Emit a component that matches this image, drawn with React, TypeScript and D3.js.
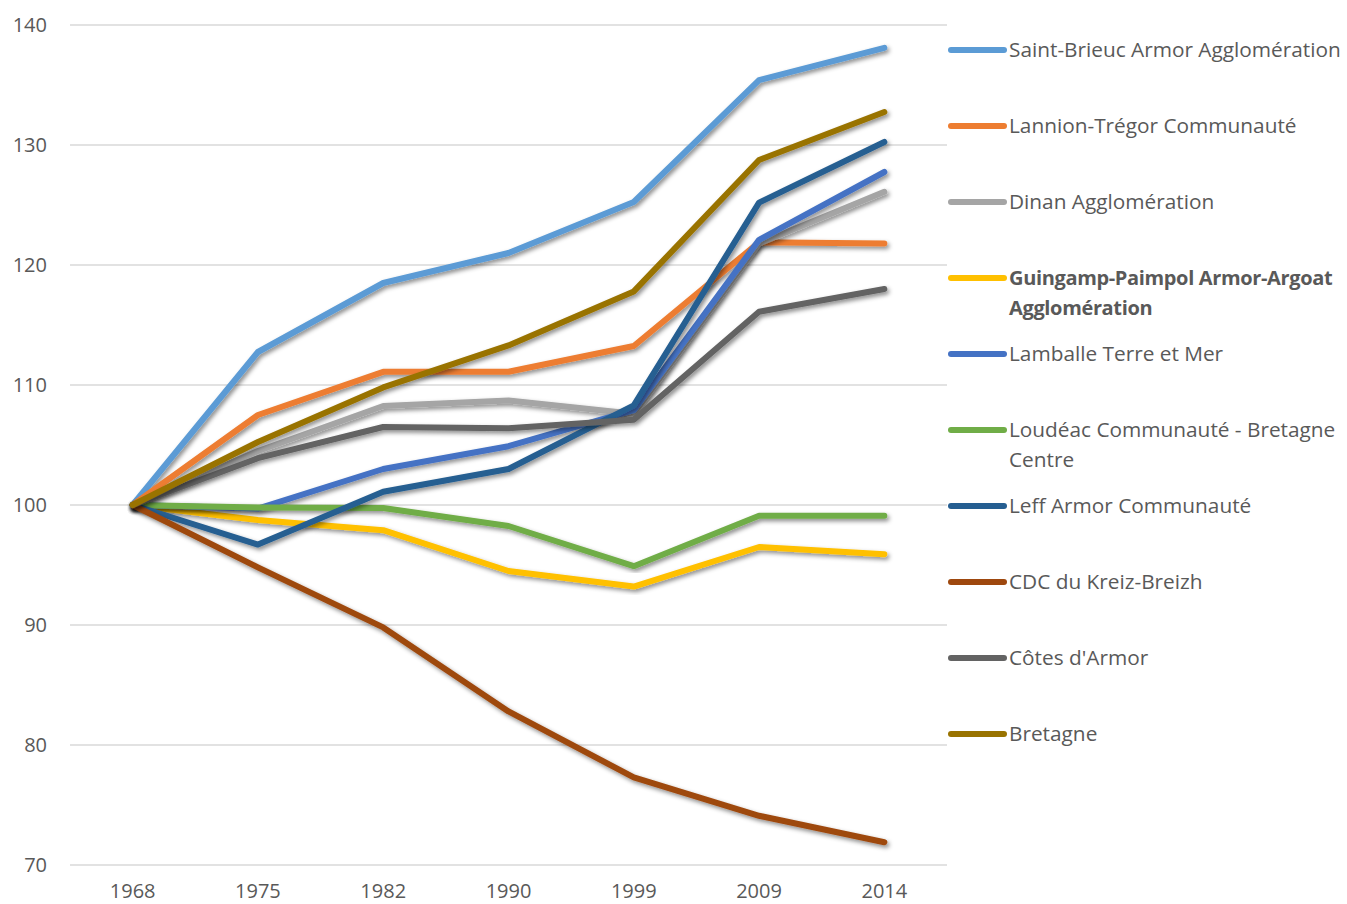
import React from "react";
import * as d3 from "d3";

const years = ["1968", "1975", "1982", "1990", "1999", "2009", "2014"];
const yTicks = [70, 80, 90, 100, 110, 120, 130, 140];

const seriesNames = [
  "Saint-Brieuc Armor Agglomération",
  "Lannion-Trégor Communauté",
  "Dinan Agglomération",
  "Guingamp-Paimpol Armor-Argoat Agglomération",
  "Lamballe Terre et Mer",
  "Loudéac Communauté - Bretagne Centre",
  "Leff Armor Communauté",
  "CDC du Kreiz-Breizh",
  "Côtes d'Armor",
  "Bretagne",
];

const saintBrieuc = [100, 112.75, 118.5, 121, 125.25, 135.4, 138.1];
const lannion = [100, 107.5, 111.1, 111.1, 113.25, 121.9, 121.8];
const dinan = [100, 104.5, 108.25, 108.7, 107.6, 121.8, 126.1];
const guingamp = [100, 98.75, 97.9, 94.5, 93.2, 96.5, 95.9];
const lamballe = [100, 99.7, 103, 104.9, 107.9, 122.1, 127.75];
const loudeac = [100, 99.8, 99.75, 98.25, 94.9, 99.1, 99.1];
const leff = [100, 96.7, 101.1, 103, 108.3, 125.2, 130.25];
const kreiz = [100, 94.8, 89.8, 82.8, 77.3, 74.1, 71.9];
const cotes = [100, 103.9, 106.5, 106.4, 107.1, 116.1, 118];
const bretagne = [100, 105.25, 109.8, 113.3, 117.8, 128.75, 132.75];

const seriesValues = [saintBrieuc, lannion, dinan, guingamp, lamballe, loudeac, leff, kreiz, cotes, bretagne];
const colors = ["#5b9bd5", "#ed7d31", "#a5a5a5", "#ffc000", "#4472c4", "#70ad47", "#255e91", "#9e480e", "#636363", "#997300"];

export default function App() {
  const W = 1347, H = 904;
  const left = 70, right = 947, top = 25, bottom = 865;
  const x = d3.scalePoint<string>().domain(years).range([left, right]).padding(0.5);
  const y = d3.scaleLinear().domain([70, 140]).range([bottom, top]);
  const line = d3.line<number>().x((_, i) => x(years[i]) as number).y((d) => y(d));
  const font = "'Open Sans', 'Noto Sans', sans-serif";

  const legendY = [50, 126, 202, 278, 354, 430, 506, 582, 658, 734];
  const legendLines: string[][] = [
    ["Saint-Brieuc Armor Agglomération"],
    ["Lannion-Trégor Communauté"],
    ["Dinan Agglomération"],
    ["Guingamp-Paimpol Armor-Argoat", "Agglomération"],
    ["Lamballe Terre et Mer"],
    ["Loudéac Communauté - Bretagne", "Centre"],
    ["Leff Armor Communauté"],
    ["CDC du Kreiz-Breizh"],
    ["Côtes d'Armor"],
    ["Bretagne"],
  ];

  return (
    <svg width={W} height={H} style={{ position: "absolute", left: 0, top: 0, background: "#fff" }} fontFamily={font}>
      <defs>
        <filter id="sh" x="-10%" y="-10%" width="120%" height="120%">
          <feDropShadow dx="2" dy="2.5" stdDeviation="2.2" floodColor="#000" floodOpacity="0.45" />
        </filter>
      </defs>
      {yTicks.map((t) => (
        <g key={t}>
          <line x1={left} x2={right} y1={y(t)} y2={y(t)} stroke="#d9d9d9" strokeWidth={1.5} />
          <text x={47} y={y(t)} dy="0.36em" textAnchor="end" fontSize={20} fill="#595959">{t}</text>
        </g>
      ))}
      {years.map((yr) => (
        <text key={yr} x={x(yr)} y={891} dy="0.36em" textAnchor="middle" fontSize={20} fill="#595959">{yr}</text>
      ))}
      {seriesValues.map((vals, i) => (
        <path key={seriesNames[i]} d={line(vals) || ""} fill="none" stroke={colors[i]} strokeWidth={6}
          strokeLinecap="round" strokeLinejoin="round" filter="url(#sh)" />
      ))}
      {seriesNames.map((name, i) => {
        const bold = i === 3;
        return (
          <g key={name}>
            <line x1={951} x2={1004} y1={legendY[i]} y2={legendY[i]} stroke={colors[i]} strokeWidth={6} strokeLinecap="round" />
            <text x={1009} y={legendY[i]} fontSize={bold ? 20 : 20.8} letterSpacing={bold ? -0.35 : 0} fill="#595959" fontWeight={bold ? "bold" : "normal"}>
              {legendLines[i].map((l, j) => (
                <tspan key={j} x={1009} dy={j === 0 ? "0.36em" : 30}>{l}</tspan>
              ))}
            </text>
          </g>
        );
      })}
    </svg>
  );
}
